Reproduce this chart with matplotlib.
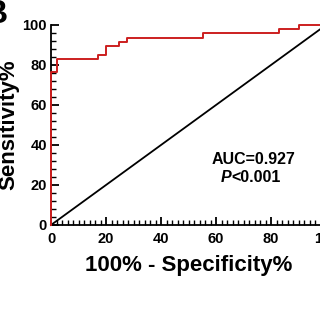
import matplotlib
matplotlib.use("Agg")
import matplotlib.pyplot as plt
from matplotlib.ticker import MultipleLocator

plt.rcParams['font.family'] = ['Liberation Sans', 'DejaVu Sans']
plt.rcParams['font.weight'] = 'bold'

# ROC curve (100% - specificity, sensitivity)
fpr = [0, 0, 2.3, 2.3, 17.2, 17.2, 19.9, 19.9, 24.7, 24.7, 27.5, 27.5,
       55.2, 55.2, 83.0, 83.0, 90.3, 90.3, 100]
tpr = [0, 76.7, 76.7, 82.8, 82.8, 85.0, 85.0, 89.5, 89.5, 91.3, 91.3, 93.7,
       93.7, 95.8, 95.8, 98.0, 98.0, 100, 100]
ref_x = [0, 100]
ref_y = [0, 100]
auc_text = "AUC=0.927"
p_text = "<0.001"

fig = plt.figure(figsize=(3.2, 3.2), dpi=100)
ax = fig.add_axes([51 / 320, 95 / 320, 275 / 320, 200 / 320])

ax.plot(ref_x, ref_y, color='black', lw=1.3, clip_on=False, zorder=2)
ax.plot(fpr, tpr, color='#cc1f1f', lw=1.4, clip_on=False, zorder=3)

ax.set_xlim(0, 100)
ax.set_ylim(0, 100)
for s in ['top', 'right']:
    ax.spines[s].set_visible(False)
for s in ['left', 'bottom']:
    ax.spines[s].set_linewidth(1.3)

ax.xaxis.set_major_locator(MultipleLocator(20))
ax.xaxis.set_minor_locator(MultipleLocator(2))
ax.yaxis.set_major_locator(MultipleLocator(20))
ax.yaxis.set_minor_locator(MultipleLocator(4))
ax.tick_params(which='major', direction='in', length=6, width=1.3, labelsize=10.5)
ax.tick_params(which='minor', direction='in', length=3.5, width=1.0)
ax.tick_params(axis='x', which='major', pad=5)
ax.tick_params(axis='y', which='major', pad=3)
for lab in ax.get_xticklabels() + ax.get_yticklabels():
    lab.set_fontweight('bold')

ax.text(73.5, 32.5, auc_text, ha='center', va='center', fontsize=11.5, fontweight='bold')
ax.text(65.7, 23.7, "P", ha='right', va='center', fontsize=11.5, fontweight='bold', style='italic')
ax.text(65.7, 23.7, p_text, ha='left', va='center', fontsize=11.5, fontweight='bold')

fig.text(188.5 / 320, 1 - 266 / 320, "100% - Specificity%", ha='center', va='center',
         fontsize=16, fontweight='bold')
fig.text(9 / 320, 1 - 125 / 320, "Sensitivity%", ha='center', va='center', rotation=90,
         fontsize=16, fontweight='bold')
fig.text(7.5 / 320, 1 - 23 / 320, "B", ha='right', va='baseline', fontsize=24, fontweight='bold')

fig.savefig("out.png", dpi=100)
